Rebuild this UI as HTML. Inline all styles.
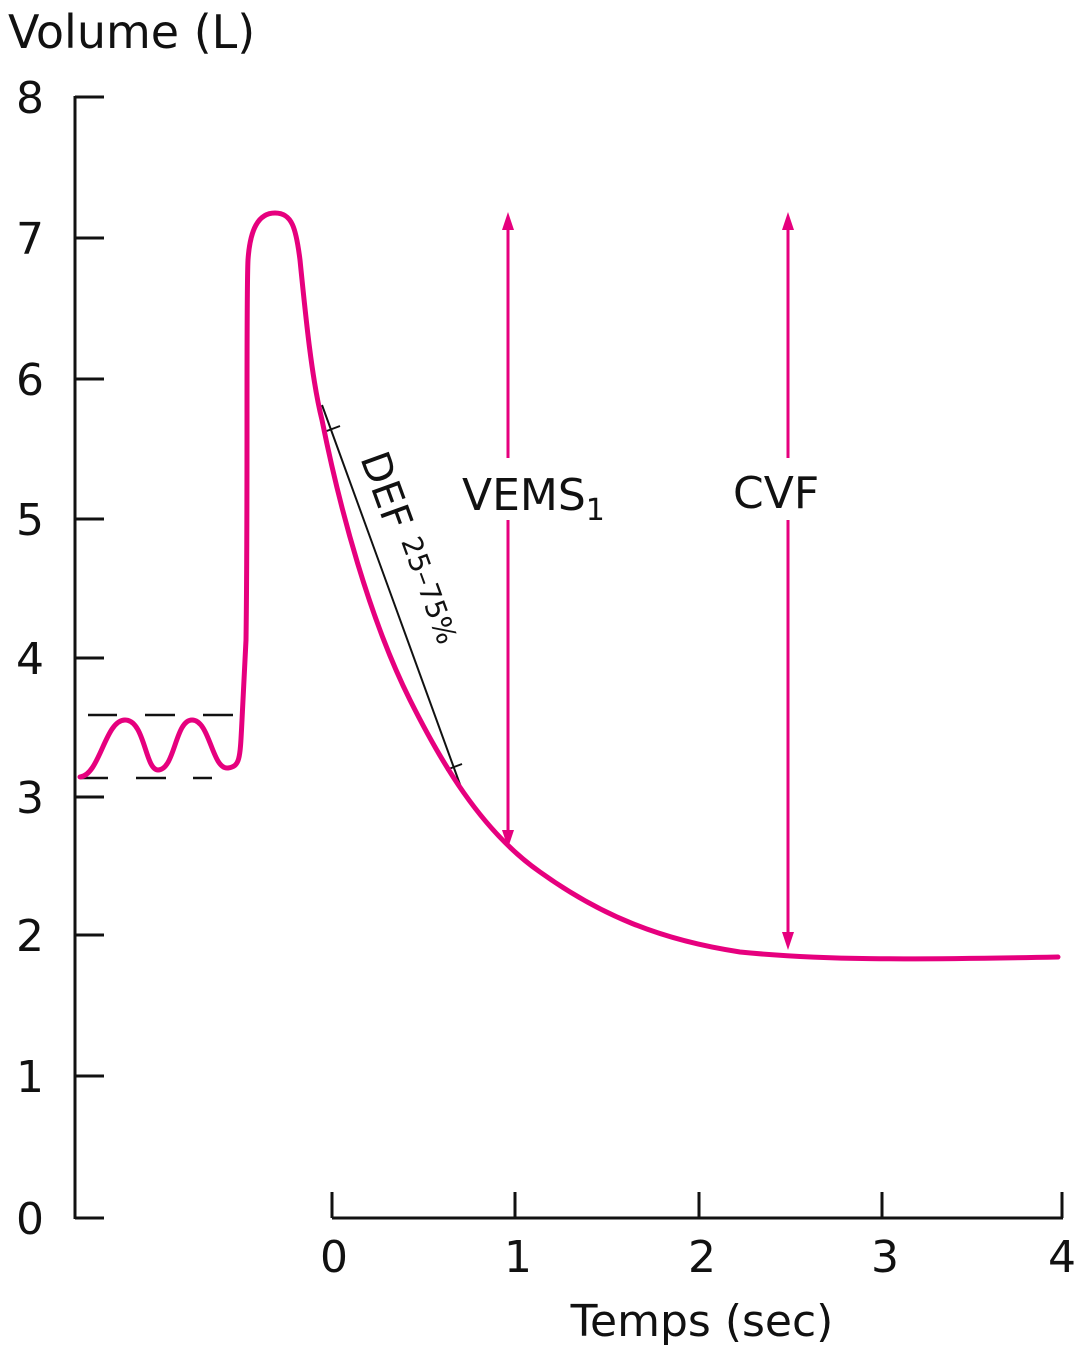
<!DOCTYPE html>
<html><head><style>body{margin:0;background:#fff}svg{display:block}</style></head><body>
<svg width="1080" height="1352" viewBox="0 0 1080 1352" xmlns="http://www.w3.org/2000/svg" font-family="'DejaVu Sans', 'Liberation Sans', sans-serif">
<text x="8" y="48" font-size="46" fill="#111">Volume (L)</text>
<g stroke="#111" stroke-width="3" fill="none">
<line x1="75" y1="96" x2="75" y2="1219"/>
<line x1="75" y1="97" x2="104" y2="97"/>
<line x1="75" y1="238" x2="104" y2="238"/>
<line x1="75" y1="379" x2="104" y2="379"/>
<line x1="75" y1="519" x2="104" y2="519"/>
<line x1="75" y1="658" x2="104" y2="658"/>
<line x1="75" y1="797" x2="104" y2="797"/>
<line x1="75" y1="935" x2="104" y2="935"/>
<line x1="75" y1="1076" x2="104" y2="1076"/>
<line x1="75" y1="1218" x2="104" y2="1218"/>
<line x1="332" y1="1218" x2="1063" y2="1218"/>
<line x1="332" y1="1192" x2="332" y2="1218"/>
<line x1="515" y1="1192" x2="515" y2="1218"/>
<line x1="699" y1="1192" x2="699" y2="1218"/>
<line x1="882" y1="1192" x2="882" y2="1218"/>
<line x1="1062" y1="1192" x2="1062" y2="1218"/>
</g>
<g font-size="44" fill="#111" text-anchor="middle">
<text x="30" y="113">8</text><text x="30" y="254">7</text><text x="30" y="395">6</text>
<text x="30" y="535">5</text><text x="30" y="674">4</text><text x="30" y="813">3</text>
<text x="30" y="951">2</text><text x="30" y="1092">1</text><text x="30" y="1234">0</text>
<text x="334" y="1272">0</text><text x="518" y="1272">1</text><text x="702" y="1272">2</text>
<text x="885" y="1272">3</text><text x="1062" y="1272">4</text>
<text x="702" y="1336">Temps (sec)</text>
</g>
<g stroke="#111" stroke-width="2.5">
<line x1="88" y1="715" x2="117" y2="715"/><line x1="145" y1="715" x2="175" y2="715"/><line x1="203" y1="715" x2="233" y2="715"/>
<line x1="80" y1="778" x2="108" y2="778"/><line x1="136" y1="778" x2="166" y2="778"/><line x1="193" y1="778" x2="212" y2="778"/>
</g>
<g stroke="#111" stroke-width="2">
<line x1="322" y1="405" x2="462" y2="790"/>
<line x1="324" y1="432" x2="340" y2="426"/>
<line x1="446" y1="770" x2="462" y2="764"/>
</g>
<path d="M80,777 C100,775 105,720 125,720 C145,720 145,770 158,770 C175,770 175,720 192,720 C210,720 212,770 228,768 C240,766 240,760 242,720 L246,640 C248,500 246,300 248,260 C250,230 258,213 275,213 C292,213 296,228 300,260 C306,320 312,380 322,420 C340,510 370,620 410,700 C440,760 480,830 540,872 C600,915 660,940 740,952 C820,960 900,960 1058,957" fill="none" stroke="#e6007e" stroke-width="5" stroke-linecap="round"/>
<g stroke="#e6007e" stroke-width="3" fill="#e6007e">
<line x1="508" y1="222" x2="508" y2="458"/><line x1="508" y1="520" x2="508" y2="838"/>
<line x1="788" y1="222" x2="788" y2="458"/><line x1="788" y1="520" x2="788" y2="940"/>
<path d="M508,212 L502,230 L514,230Z" stroke="none"/><path d="M508,848 L502,830 L514,830Z" stroke="none"/>
<path d="M788,212 L782,230 L794,230Z" stroke="none"/><path d="M788,950 L782,932 L794,932Z" stroke="none"/>
</g>
<text x="462" y="510" font-size="44" fill="#111">VEMS<tspan font-size="30" dy="10">1</tspan></text>
<text x="733" y="508" font-size="44" fill="#111">CVF</text>
<g transform="translate(360,458) rotate(70)" fill="#111">
<text x="0" y="0" font-size="40">DEF</text>
<text x="92" y="-10" font-size="28">25–75%</text>
</g>
</svg>
</body></html>
